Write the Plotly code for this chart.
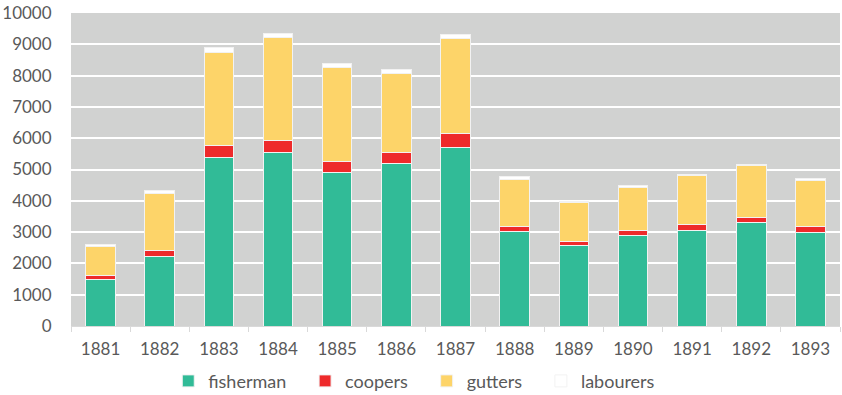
import plotly.graph_objects as go

years = ["1881", "1882", "1883", "1884", "1885", "1886", "1887",
         "1888", "1889", "1890", "1891", "1892", "1893"]
fisherman = [1500, 2220, 5370, 5550, 4890, 5200, 5710, 3020, 2570, 2880, 3060, 3300, 2990]
coopers = [110, 200, 390, 390, 370, 350, 426, 170, 130, 170, 180, 170, 180]
gutters = [920, 1815, 2990, 3270, 2990, 2530, 3050, 1505, 1235, 1380, 1560, 1650, 1485]
labourers = [80, 100, 160, 130, 150, 105, 130, 90, 45, 65, 55, 55, 50]
y_ticks = [0, 1000, 2000, 3000, 4000, 5000, 6000, 7000, 8000, 9000, 10000]
y_labels = [str(v) for v in y_ticks]

series = [
    ("fisherman", fisherman, "#31BB97"),
    ("coopers", coopers, "#EE2A2B"),
    ("gutters", gutters, "#FDD469"),
    ("labourers", labourers, "#FFFFFF"),
]
pads = {"fisherman": 3, "coopers": 3, "gutters": 3, "labourers": 0}

fig = go.Figure()
for name, vals, color in series:
    fig.add_trace(go.Bar(
        x=years, y=vals, name=name + "\u00a0" * pads[name],
        marker=dict(color=color, line=dict(color="#F2F2F2", width=1)),
    ))

font_family = "Lato, 'Open Sans', sans-serif"
fig.update_layout(
    barmode="stack",
    bargap=0.5,
    width=842, height=395,
    margin=dict(l=68, r=2, t=13, b=69),
    paper_bgcolor="white",
    plot_bgcolor="#D1D2D1",
    font=dict(family=font_family, size=17, color="#595959"),
    showlegend=True,
    legend=dict(orientation="h", x=0.492, xanchor="center", xref="container",
                y=0.035, yanchor="middle", yref="container",
                font=dict(size=18, color="#595959"), traceorder="normal"),
)
fig.update_xaxes(
    type="category", tickson="boundaries", ticks="outside", ticklen=5,
    tickcolor="#D9D9D9", showline=True, linecolor="#D9D9D9", linewidth=1,
    showgrid=False, tickfont=dict(size=17, color="#595959"),
    ticklabelstandoff=8,
)
fig.update_yaxes(
    range=[0, 10000], tickvals=y_ticks, ticktext=y_labels, showgrid=True,
    gridcolor="#FFFFFF", gridwidth=1.5, zeroline=False, ticks="outside",
    ticklen=15, tickcolor="rgba(0,0,0,0)", tickfont=dict(size=17, color="#595959"),
)
fig.write_html("out.html")
